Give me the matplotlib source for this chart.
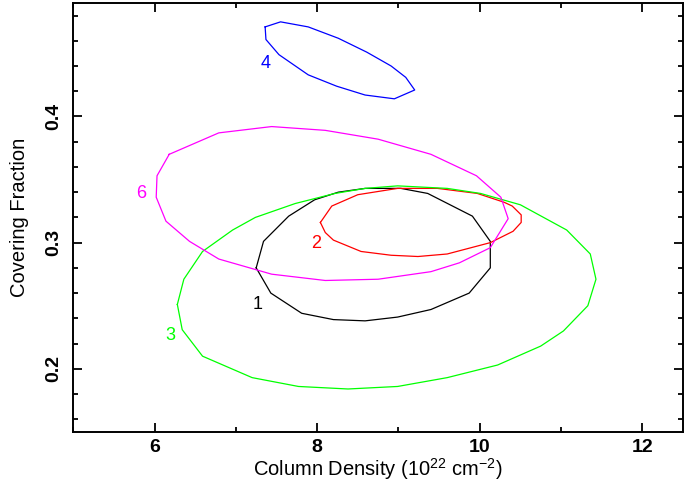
import matplotlib.pyplot as plt
from matplotlib.ticker import MultipleLocator

plt.rcParams['font.family'] = ['Liberation Sans', 'DejaVu Sans']

# confidence contours: column density (1e22 cm^-2) vs covering fraction
c1_x = [7.25, 7.34, 7.65, 7.97, 8.26, 8.59, 9.03, 9.36, 9.91, 10.13, 10.13, 9.87, 9.40, 8.99, 8.59, 8.20, 7.81, 7.43]
c1_y = [0.280, 0.301, 0.321, 0.334, 0.340, 0.343, 0.343, 0.339, 0.321, 0.301, 0.280, 0.260, 0.247, 0.241, 0.238, 0.239, 0.244, 0.260]

c2_x = [8.04, 8.18, 8.50, 8.99, 9.48, 9.97, 10.30, 10.40, 10.51, 10.51, 10.41, 10.13, 9.60, 9.24, 8.91, 8.54, 8.20, 8.10]
c2_y = [0.316, 0.329, 0.338, 0.343, 0.343, 0.339, 0.332, 0.329, 0.322, 0.316, 0.309, 0.300, 0.291, 0.289, 0.290, 0.293, 0.302, 0.308]

c3_x = [6.28, 6.36, 6.59, 6.96, 7.24, 7.73, 8.22, 8.59, 8.99, 9.60, 10.01, 10.50, 11.07, 11.36, 11.43, 11.33,
        11.03, 10.75, 10.22, 9.60, 8.99, 8.38, 7.77, 7.20, 6.59, 6.34]
c3_y = [0.251, 0.271, 0.293, 0.310, 0.320, 0.331, 0.339, 0.343, 0.345, 0.343, 0.339, 0.330, 0.310, 0.291, 0.271, 0.250,
        0.230, 0.218, 0.203, 0.193, 0.186, 0.184, 0.186, 0.193, 0.210, 0.231]

c4_x = [7.36, 7.55, 7.89, 8.26, 8.61, 8.91, 9.09, 9.20, 8.95, 8.59, 8.24, 7.89, 7.53, 7.37]
c4_y = [0.471, 0.475, 0.471, 0.462, 0.451, 0.440, 0.431, 0.421, 0.414, 0.417, 0.424, 0.433, 0.449, 0.461]

c6_x = [6.18, 6.79, 7.44, 8.10, 8.75, 9.40, 9.96, 10.26, 10.35, 10.13, 9.75, 9.40, 8.75, 8.10, 7.44, 6.79,
        6.43, 6.14, 6.02, 6.03]
c6_y = [0.370, 0.387, 0.392, 0.389, 0.382, 0.370, 0.353, 0.336, 0.319, 0.296, 0.284, 0.277, 0.271, 0.270, 0.275, 0.287,
        0.301, 0.317, 0.336, 0.353]

contours = [('1', c1_x, c1_y, 'black', 7.27, 0.251),
            ('2', c2_x, c2_y, '#ff0000', 7.99, 0.299),
            ('3', c3_x, c3_y, '#00ff00', 6.20, 0.226),
            ('4', c4_x, c4_y, '#0000ff', 7.37, 0.442),
            ('6', c6_x, c6_y, '#ff00ff', 5.83, 0.339)]

fig = plt.figure(figsize=(6.85, 4.88), dpi=100)
ax = fig.add_axes([0.107, 0.115, 0.890, 0.879])

for name, xs, ys, col, lx, ly in contours:
    ax.plot(xs + xs[:1], ys + ys[:1], color=col, lw=0.9)
    ax.text(lx, ly, name, color=col, fontsize=13, ha='center', va='center')

ax.set_xlim(5, 12.5)
ax.set_ylim(0.15, 0.49)
ax.xaxis.set_major_locator(MultipleLocator(2))
ax.xaxis.set_minor_locator(MultipleLocator(1))
ax.yaxis.set_major_locator(MultipleLocator(0.1))
ax.yaxis.set_minor_locator(MultipleLocator(0.02))
ax.tick_params(which='both', direction='in', top=True, right=True, width=1.3)
ax.tick_params(which='major', length=6.5, labelsize=14)
ax.tick_params(axis='x', which='major', pad=5)
ax.tick_params(axis='y', which='major', pad=8)
ax.tick_params(which='minor', length=3.5)
for lab in ax.get_xticklabels() + ax.get_yticklabels():
    lab.set_fontweight('bold')
for lab in ax.get_yticklabels():
    lab.set_rotation(90)
    lab.set_va('center')
for sp in ax.spines.values():
    sp.set_linewidth(1.4)

ax.set_xlabel(r'Column Density (10$^{\mathregular{22}}$ cm$^{\mathregular{-2}}$)', fontsize=14.5, labelpad=0)
ax.set_ylabel('Covering Fraction', fontsize=14.5, labelpad=12)

fig.savefig('out.png', dpi=100)
